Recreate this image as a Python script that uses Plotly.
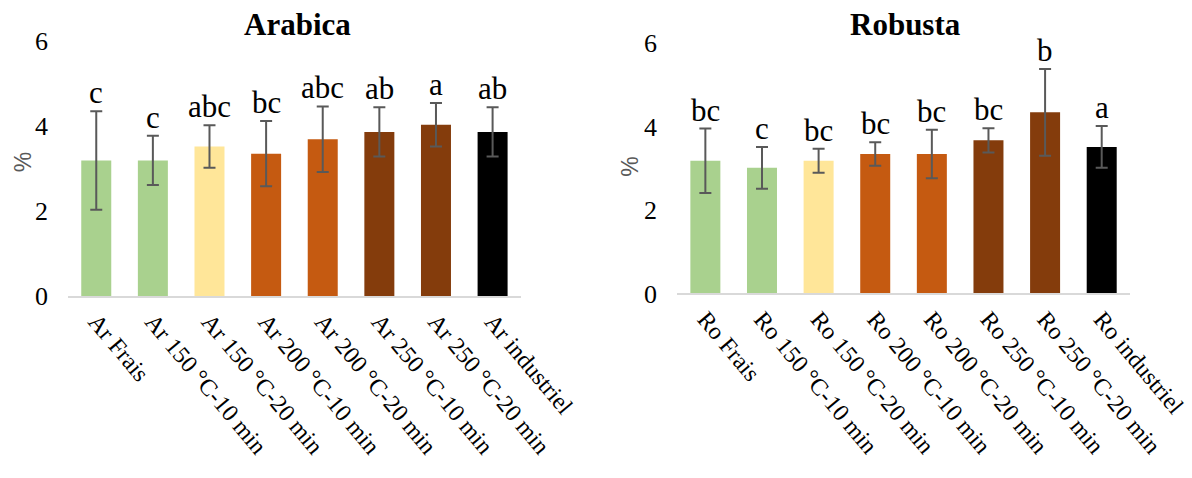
import plotly.graph_objects as go

ar_categories = ["Ar Frais", "Ar 150 °C-10 min", "Ar 150 °C-20 min", "Ar 200 °C-10 min",
                 "Ar 200 °C-20 min", "Ar 250 °C-10 min", "Ar 250 °C-20 min", "Ar industriel"]
ro_categories = ["Ro Frais", "Ro 150 °C-10 min", "Ro 150 °C-20 min", "Ro 200 °C-10 min",
                 "Ro 200 °C-20 min", "Ro 250 °C-10 min", "Ro 250 °C-20 min", "Ro industriel"]

ar_values = [3.19, 3.19, 3.52, 3.35, 3.69, 3.86, 4.03, 3.86]
ar_errors = [1.16, 0.58, 0.50, 0.77, 0.77, 0.58, 0.51, 0.58]
ar_letters = ["c", "c", "abc", "bc", "abc", "ab", "a", "ab"]

ro_values = [3.18, 3.01, 3.18, 3.34, 3.34, 3.67, 4.34, 3.51]
ro_errors = [0.77, 0.50, 0.29, 0.28, 0.58, 0.29, 1.04, 0.50]
ro_letters = ["bc", "c", "bc", "bc", "bc", "bc", "b", "a"]

colors = ["#a9d18e", "#a9d18e", "#ffe699", "#c55a11", "#c55a11", "#843c0c", "#843c0c", "#000000"]

serif = "Liberation Serif"

fig = go.Figure()

for cats, vals, errs, xa, ya in [(ar_categories, ar_values, ar_errors, "x", "y"),
                                 (ro_categories, ro_values, ro_errors, "x2", "y2")]:
    fig.add_trace(go.Bar(
        x=cats, y=vals, xaxis=xa, yaxis=ya,
        marker=dict(color=colors, line=dict(width=0)),
        error_y=dict(type="data", array=errs, visible=True, color="#595959",
                     thickness=2, width=6),
        showlegend=False,
    ))

annotations = []
for cats, vals, errs, lets, xa, ya in [(ar_categories, ar_values, ar_errors, ar_letters, "x", "y"),
                                       (ro_categories, ro_values, ro_errors, ro_letters, "x2", "y2")]:
    for c, v, e, l in zip(cats, vals, errs, lets):
        annotations.append(dict(x=c, y=v + e, xref=xa, yref=ya, text=l, showarrow=False,
                                yanchor="bottom", yshift=-1,
                                font=dict(family=serif, size=31, color="black")))

annotations.append(dict(x=0.2495, y=1.0, xref="paper", yref="paper", text="<b>Arabica</b>",
                        showarrow=False, xanchor="center", yanchor="top", yshift=-5,
                        font=dict(family=serif, size=31, color="black")))
annotations.append(dict(x=0.760, y=1.0, xref="paper", yref="paper", text="<b>Robusta</b>",
                        showarrow=False, xanchor="center", yanchor="top", yshift=-5,
                        font=dict(family=serif, size=31, color="black")))
annotations.append(dict(x=0.019, y=0.66, xref="paper", yref="paper", text="%", textangle=-90,
                        showarrow=False, xanchor="center", yanchor="middle",
                        font=dict(family="Liberation Sans", size=23, color="#595959")))
annotations.append(dict(x=0.529, y=0.65, xref="paper", yref="paper", text="%", textangle=-90,
                        showarrow=False, xanchor="center", yanchor="middle",
                        font=dict(family="Liberation Sans", size=23, color="#595959")))

xaxis_common = dict(showgrid=False, showline=True, linecolor="#d9d9d9", linewidth=2,
                    ticks="", tickangle=50, automargin=False,
                    tickfont=dict(family=serif, size=24, color="black"))
yaxis_common = dict(range=[0, 6], tickvals=[0, 2, 4, 6], showgrid=False, showline=False,
                    zeroline=False, ticks="", automargin=False, ticklabelstandoff=19,
                    tickfont=dict(family=serif, size=26, color="black"))

fig.update_layout(
    width=1192, height=478,
    margin=dict(l=0, r=0, t=0, b=0),
    paper_bgcolor="white", plot_bgcolor="white",
    bargap=0.47,
    xaxis=dict(domain=[0.057, 0.437], anchor="y", **xaxis_common),
    yaxis=dict(domain=[0.381, 0.914], anchor="x", **yaxis_common),
    xaxis2=dict(domain=[0.568, 0.948], anchor="y2", **xaxis_common),
    yaxis2=dict(domain=[0.386, 0.91], anchor="x2", **yaxis_common),
    annotations=annotations,
)

fig.write_html("out.html")
